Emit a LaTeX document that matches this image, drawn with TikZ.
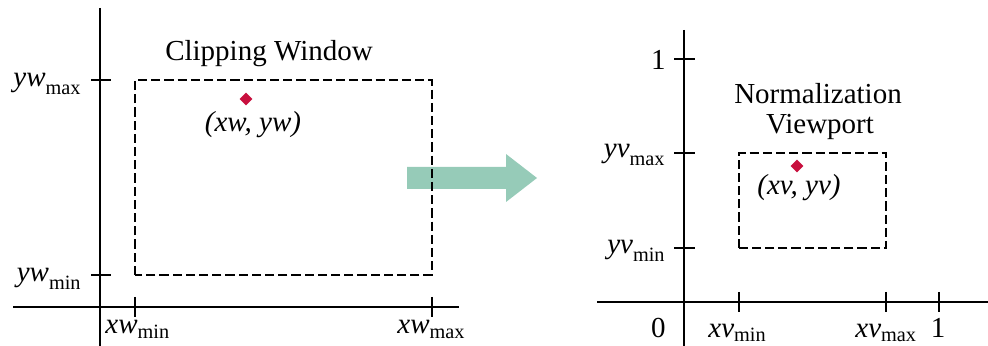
\documentclass[tikz,border=0pt]{standalone}
\usepackage{fontspec}
\setmainfont{Liberation Serif}
\usetikzlibrary{shapes.geometric, positioning}

\definecolor{ptred}{HTML}{C8103E}
\definecolor{arrowgreen}{HTML}{96CBB8}

\tikzset{
    axis/.style={line width=0.75pt},
    region/.style={dash pattern=on 4.6pt off 2pt, line width=0.6pt},
    point/.style={diamond, fill=ptred, inner sep=0pt, minimum size=6.5pt},
    lbl/.style={font=\fontsize{14.5}{15}\selectfont, inner sep=0pt}
}

\begin{document}
\begin{tikzpicture}[x=0.5pt, y=-0.5pt]
    \useasboundingbox (0,0) rectangle (988,346);

    % Mapping arrow (behind the window edge)
    \fill[arrowgreen] (407,167) -- (506,167) -- (506,154) -- (537,178)
        -- (506,202) -- (506,189) -- (407,189) -- cycle;

    % World frame: axes and ticks
    \draw[axis] (100,8) -- (100,346);
    \draw[axis] (13,307) -- (459,307);
    \draw[axis] (91,80) -- (111,80);
    \draw[axis] (91,275) -- (111,275);
    \draw[axis] (135,297) -- (135,317);
    \draw[axis] (432,297) -- (432,317);

    % Clipping window
    \coordinate (cwlo) at (135,275);
    \coordinate (cwhi) at (432,80);
    \draw[region] (cwlo) rectangle (cwhi);
    \node[lbl, anchor=base] (cwtitle) at (269,61) {Clipping Window};
    \node[point] (pw) at (246,99) {};
    \node[lbl, anchor=base] (pwlabel) at (253,132) {\textit{(xw, yw)}};

    \node[lbl, anchor=base east] (ywmax) at (82,87) {$\mathit{yw}_{\mathrm{max}}$};
    \node[lbl, anchor=base east] (ywmin) at (82,282) {$\mathit{yw}_{\mathrm{min}}$};
    \node[lbl, anchor=base west] (xwmin) at (105,334) {$\mathit{xw}_{\mathrm{min}}$};
    \node[lbl, anchor=base west] (xwmax) at (397,334) {$\mathit{xw}_{\mathrm{max}}$};

    % Normalized frame: axes and ticks
    \draw[axis] (684,30) -- (684,346);
    \draw[axis] (597,302) -- (988,302);
    \draw[axis] (674,59) -- (695,59);
    \draw[axis] (674,153) -- (695,153);
    \draw[axis] (674,248) -- (695,248);
    \draw[axis] (739,292) -- (739,312);
    \draw[axis] (886,292) -- (886,312);
    \draw[axis] (939,292) -- (939,312);

    % Normalization viewport
    \coordinate (vplo) at (739,248);
    \coordinate (vphi) at (886,153);
    \draw[region] (vplo) rectangle (vphi);
    \node[lbl, anchor=base] (vptitle) at (818,104) {Normalization};
    \node[lbl, anchor=base] (vptitle2) at (820,134) {Viewport};
    \node[point] (pv) at (797,166) {};
    \node[lbl, anchor=base] (pvlabel) at (799,195) {\textit{(xv, yv)}};

    \node[lbl, anchor=base east] (one) at (666,70) {1};
    \node[lbl, anchor=base east] (yvmax) at (666,158) {$\mathit{yv}_{\mathrm{max}}$};
    \node[lbl, anchor=base east] (yvmin) at (666,254) {$\mathit{yv}_{\mathrm{min}}$};
    \node[lbl, anchor=base east] (zero) at (666,337) {0};
    \node[lbl, anchor=base west] (xvmin) at (708,337) {$\mathit{xv}_{\mathrm{min}}$};
    \node[lbl, anchor=base west] (xvmax) at (855,337) {$\mathit{xv}_{\mathrm{max}}$};
    \node[lbl, anchor=base] (onex) at (938,337) {1};
\end{tikzpicture}
\end{document}
